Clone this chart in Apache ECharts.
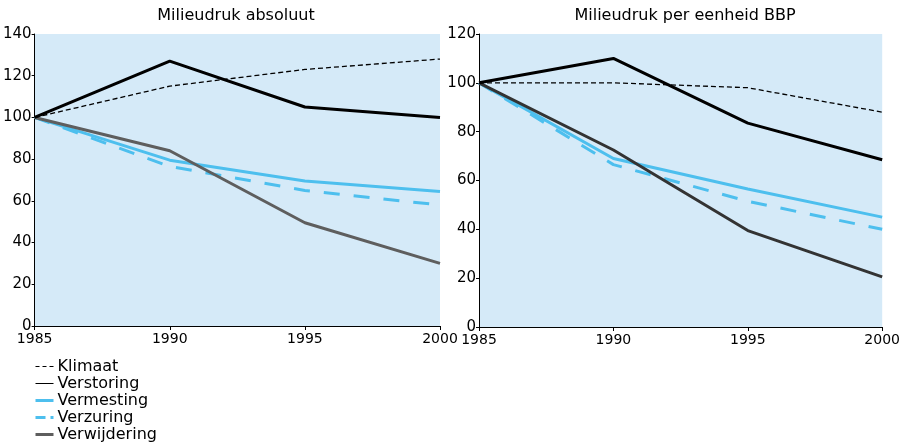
<!DOCTYPE html>
<html><head><meta charset="utf-8">
<script src="https://cdn.jsdelivr.net/npm/echarts@6/dist/echarts.min.js"></script>
<style>html,body{margin:0;padding:0;background:#fff}#c{width:903px;height:444px}</style>
</head><body><div id="c"></div>
<script>
const years = [1985, 1990, 1995, 2000];
const seriesNames = ['Klimaat', 'Verstoring', 'Vermesting', 'Verzuring', 'Verwijdering'];
// Milieudruk absoluut
const absKlimaat = [100, 115, 123, 128];
const absVerstoring = [100, 127, 105, 100];
const absVermesting = [100, 79.5, 69.5, 64.5];
const absVerzuring = [100, 76.5, 65, 58];
const absVerwijdering = [100, 84, 49.5, 30];
// Milieudruk per eenheid BBP
const bbpKlimaat = [100, 100, 98, 88];
const bbpVerstoring = [100, 110, 83.5, 68.5];
const bbpVermesting = [100, 69, 56.5, 45];
const bbpVerzuring = [100, 66.5, 51.5, 40];
const bbpVerwijdering = [100, 72.5, 39.5, 20.5];
const leftTicks = [0, 20, 40, 60, 80, 100, 120, 140];
const rightTicks = [0, 20, 40, 60, 80, 100, 120];

const FONT = 'DejaVu Sans';
const styles = [
  {color: '#000', width: 1.3, type: [5, 3]},
  {color: '#000', width: 3, type: 'solid'},
  {color: '#4dbfee', width: 3, type: 'solid'},
  {color: '#4dbfee', width: 3, type: [16, 14]},
  {color: '#5e5e5e', width: 3, type: 'solid'}
];
const legendLines = [
  {color: '#000', width: 1, type: [4, 3]},
  {color: '#000', width: 1, type: 'solid'},
  {color: '#4dbfee', width: 3, type: 'solid'},
  {color: '#4dbfee', width: 3, type: [10, 5]},
  {color: '#5e5e5e', width: 3, type: 'solid'}
];
const absData = [absKlimaat, absVerstoring, absVermesting, absVerzuring, absVerwijdering];
const bbpData = [bbpKlimaat, bbpVerstoring, bbpVermesting, bbpVerzuring, bbpVerwijdering];

function mk(dataArr, idx, colorOverride) {
  return dataArr.map((d, i) => ({
    name: seriesNames[i], type: 'line', xAxisIndex: idx, yAxisIndex: idx,
    data: d.map((v, j) => [years[j], v]), symbol: 'none', showSymbol: false, silent: true,
    z: i === 4 ? 3 : (i === 1 || i === 0 ? 4 : 2),
    lineStyle: {color: (colorOverride && i === 4) ? colorOverride : styles[i].color, width: styles[i].width, type: styles[i].type},
    itemStyle: {color: styles[i].color}
  }));
}
const xAx = (gi) => ({
  type: 'value', gridIndex: gi, min: 1985, max: 2000, interval: 5,
  axisLine: {lineStyle: {color: '#000', width: 1}}, axisTick: {show: true, length: 4, lineStyle: {color: '#000'}},
  splitLine: {show: false}, axisLabel: {color: '#000', fontSize: 14, fontFamily: FONT, margin: 6, formatter: v => String(v)}
});
const yAx = (gi, max) => ({
  type: 'value', gridIndex: gi, min: 0, max: max, interval: 20,
  axisLine: {show: true, lineStyle: {color: '#000', width: 1}}, axisTick: {show: true, length: 3, lineStyle: {color: '#000'}},
  splitLine: {show: false}, axisLabel: {color: '#000', fontSize: 15, fontFamily: FONT, margin: 3}
});
const chart = echarts.init(document.getElementById('c'));
chart.setOption({
  animation: false,
  backgroundColor: '#fff',
  title: [
    {text: 'Milieudruk absoluut', left: 231, top: 3, textAlign: 'center', textStyle: {fontSize: 16, fontWeight: 'normal', fontFamily: FONT, color: '#000'}},
    {text: 'Milieudruk per eenheid BBP', left: 680, top: 3, textAlign: 'center', textStyle: {fontSize: 16, fontWeight: 'normal', fontFamily: FONT, color: '#000'}}
  ],
  grid: [
    {left: 34, top: 34, width: 406, height: 292, show: true, backgroundColor: '#d5eaf8', borderWidth: 0},
    {left: 479, top: 34, width: 406, height: 293, show: true, backgroundColor: '#d5eaf8', borderWidth: 0}
  ],
  xAxis: [xAx(0), xAx(1)],
  yAxis: [yAx(0, leftTicks[leftTicks.length - 1]), yAx(1, rightTicks[rightTicks.length - 1])],
  legend: {
    data: seriesNames.map((n, i) => ({name: n, lineStyle: legendLines[i]})),
    orient: 'vertical', left: 34, top: 358, height: 86, itemWidth: 18, itemHeight: 10, itemGap: 0,
    padding: 0, selectedMode: false, itemStyle: {opacity: 0},
    textStyle: {fontSize: 16, lineHeight: 17, fontFamily: FONT, color: '#000', padding: [0, 0, 0, -1]}
  },
  series: [...mk(absData, 0), ...mk(bbpData, 1, '#333333')]
});
</script></body></html>
